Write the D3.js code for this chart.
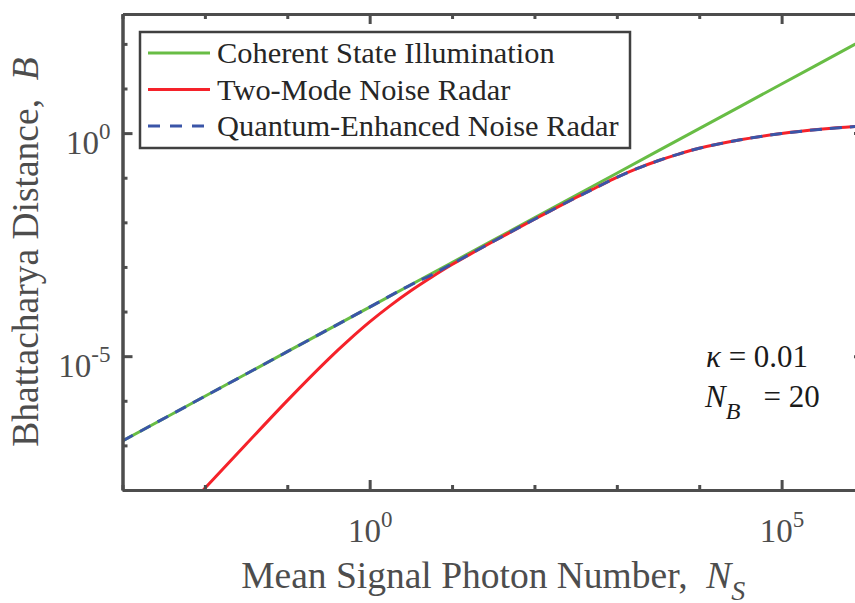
<!DOCTYPE html>
<meta charset="utf-8">
<style>
body { margin: 0; background: #fff; }
text { font-family: "Liberation Serif", "Times New Roman", serif; }
.axis path, .axis line { stroke: #4d4d4d; stroke-width: 3; }
</style>
<svg width="855" height="603"></svg>
<script src="https://d3js.org/d3.v7.min.js"></script>
<script>

// values
var nsCoherent = [1e-3, 1e-2, 1e-1, 1, 10, 1e2, 1e3, 1e4, 1e5, 1e6],
    bCoherent = [1.26e-7, 1.26e-6, 1.26e-5, 1.26e-4, 1.26e-3, 1.26e-2, 0.126, 1.26, 12.6, 126];

var nsTwoMode = [0.008, 0.01, 0.0316, 0.1, 0.316, 0.562, 1, 1.78, 3.16, 5.62, 10, 31.6, 100, 316, 562, 1000, 1780, 3160, 5620, 1e4, 3.16e4, 1e5, 3.16e5, 1e6],
    bTwoMode = [7.0e-9, 1.09e-8, 1.06e-7, 1.01e-6, 8.6e-6, 2.32e-5, 5.86e-5, 1.36e-4, 2.92e-4, 5.87e-4, 1.13e-3, 3.72e-3, 1.175e-2, 3.55e-2, 6.03e-2, 0.102, 0.162, 0.240, 0.339, 0.457, 0.708, 0.977, 1.23, 1.445];

var nsEnhanced = [1e-3, 1e-2, 1e-1, 1, 3.16, 5.62, 10, 31.6, 100, 316, 562, 1000, 1780, 3160, 5620, 1e4, 3.16e4, 1e5, 3.16e5, 1e6],
    bEnhanced = [1.26e-7, 1.26e-6, 1.26e-5, 1.26e-4, 3.98e-4, 6.6e-4, 1.17e-3, 3.72e-3, 1.175e-2, 3.55e-2, 6.03e-2, 0.102, 0.162, 0.240, 0.339, 0.457, 0.708, 0.977, 1.23, 1.445];

var seriesNames = ["Coherent State Illumination", "Two-Mode Noise Radar", "Quantum-Enhanced Noise Radar"],
    seriesColors = ["#68bd45", "#f5222a", "#3a55a8"];

var xTicks = [1e-3, 1e-2, 1e-1, 1, 10, 1e2, 1e3, 1e4, 1e5, 1e6],
    xLabelled = [1, 1e5],
    yTicks = [1e-8, 1e-7, 1e-6, 1e-5, 1e-4, 1e-3, 1e-2, 1e-1, 1, 10, 100],
    yLabelled = [1e-5, 1];

var svg = d3.select("svg"),
    plotL = 122.5, plotR = 864, plotT = 14, plotB = 490;

var x = d3.scaleLog().domain([1e-3, 1e6]).range([plotL, plotR]),
    y = d3.scaleLog().domain([1e-8, Math.pow(10, 2.67)]).range([plotB, plotT]);

svg.append("clipPath").attr("id", "plot")
  .append("rect")
    .attr("x", plotL).attr("y", plotT)
    .attr("width", plotR - plotL).attr("height", plotB - plotT);

var line = d3.line()
    .x(function(d) { return x(d[0]); })
    .y(function(d) { return y(d[1]); })
    .curve(d3.curveCatmullRom.alpha(0.5));

var gLines = svg.append("g").attr("clip-path", "url(#plot)");

gLines.append("path")
    .datum(d3.zip(nsCoherent, bCoherent))
    .attr("d", line)
    .attr("fill", "none")
    .attr("stroke", seriesColors[0])
    .attr("stroke-width", 3);

gLines.append("path")
    .datum(d3.zip(nsTwoMode, bTwoMode))
    .attr("d", line)
    .attr("fill", "none")
    .attr("stroke", seriesColors[1])
    .attr("stroke-width", 3);

gLines.append("path")
    .datum(d3.zip(nsEnhanced, bEnhanced))
    .attr("d", line)
    .attr("fill", "none")
    .attr("stroke", seriesColors[2])
    .attr("stroke-width", 3)
    .attr("stroke-dasharray", "12,8");

// axes: short ticks every decade, longer ones where there is a label
function isLabelled(list) {
  return function(d) { return list.some(function(v) { return Math.abs(Math.log10(v) - Math.log10(d)) < 1e-6; }); };
}
var xMinor = xTicks.filter(function(d) { return !isLabelled(xLabelled)(d); }),
    yMinor = yTicks.filter(function(d) { return !isLabelled(yLabelled)(d); });

function addAxis(axisFn, scale, ticks, size, transform) {
  return svg.append("g")
      .attr("class", "axis")
      .attr("transform", transform)
      .call(axisFn(scale).tickValues(ticks).tickSize(-size).tickSizeOuter(0).tickFormat(""));
}

addAxis(d3.axisBottom, x, xMinor, 5, "translate(0," + plotB + ")");
var gx = addAxis(d3.axisBottom, x, xLabelled, 10, "translate(0," + plotB + ")");
addAxis(d3.axisTop, x, xMinor, 5, "translate(0," + plotT + ")");
addAxis(d3.axisTop, x, xLabelled, 10, "translate(0," + plotT + ")");
addAxis(d3.axisLeft, y, yMinor, 5, "translate(" + plotL + ",0)");
var gy = addAxis(d3.axisLeft, y, yLabelled, 10, "translate(" + plotL + ",0)");
addAxis(d3.axisRight, y, yMinor, 5, "translate(" + plotR + ",0)");
addAxis(d3.axisRight, y, yLabelled, 10, "translate(" + plotR + ",0)");

function powerLabel(sel, d) {
  sel.append("tspan").text("10");
  sel.append("tspan").attr("font-size", 23).attr("dy", -15).text(Math.round(Math.log10(d)));
}

gx.selectAll(".tick").append("text")
    .attr("y", 52)
    .attr("fill", "#4d4d4d")
    .attr("font-size", 33)
    .attr("text-anchor", "middle")
    .each(function(d) { powerLabel(d3.select(this), d); });

gy.selectAll(".tick").append("text")
    .attr("x", -12)
    .attr("y", 20)
    .attr("fill", "#4d4d4d")
    .attr("font-size", 33)
    .attr("text-anchor", "end")
    .each(function(d) { powerLabel(d3.select(this), d); });

// axis titles
var xTitle = svg.append("text")
    .attr("x", (plotL + plotR) / 2)
    .attr("y", 588)
    .attr("fill", "#4d4d4d")
    .attr("font-size", 37.5)
    .attr("text-anchor", "middle")
    .style("white-space", "pre");
xTitle.append("tspan").text("Mean Signal Photon Number,  ");
xTitle.append("tspan").attr("font-style", "italic").text("N");
xTitle.append("tspan").attr("font-style", "italic").attr("font-size", 28).attr("dy", 12).text("S");

var yTitle = svg.append("text")
    .attr("transform", "translate(38," + ((plotT + plotB) / 2) + ") rotate(-90)")
    .attr("fill", "#4d4d4d")
    .attr("font-size", 37.5)
    .attr("text-anchor", "middle")
    .style("white-space", "pre");
yTitle.append("tspan").text("Bhattacharya Distance,  ");
yTitle.append("tspan").attr("font-style", "italic").text("B");

// legend
var legend = svg.append("g");
legend.append("rect")
    .attr("x", 140).attr("y", 32)
    .attr("width", 490).attr("height", 116)
    .attr("fill", "#fff")
    .attr("stroke", "#404040")
    .attr("stroke-width", 2.5);

seriesNames.forEach(function(name, i) {
  var yy = 53 + i * 36.5;
  legend.append("line")
      .attr("x1", 148).attr("x2", 210)
      .attr("y1", yy).attr("y2", yy)
      .attr("stroke", seriesColors[i])
      .attr("stroke-width", 3)
      .attr("stroke-dasharray", i == 2 ? "12,10" : null);
  legend.append("text")
      .attr("x", 217).attr("y", yy + 10)
      .attr("fill", "#262626")
      .attr("font-size", 30.4)
      .text(name);
});

// parameters note
var note = svg.append("g").attr("fill", "#1a1a1a").attr("font-size", 31);
var t1 = note.append("text").attr("x", 706).attr("y", 367).style("white-space", "pre");
t1.append("tspan").attr("font-style", "italic").text("\u03ba");
t1.append("tspan").text(" = 0.01");
var t2 = note.append("text").attr("x", 705).attr("y", 407).style("white-space", "pre");
t2.append("tspan").attr("font-style", "italic").text("N");
t2.append("tspan").attr("font-style", "italic").attr("font-size", 24).attr("dy", 12).text("B");
t2.append("tspan").attr("dy", -12).text("   = 20");

</script>
